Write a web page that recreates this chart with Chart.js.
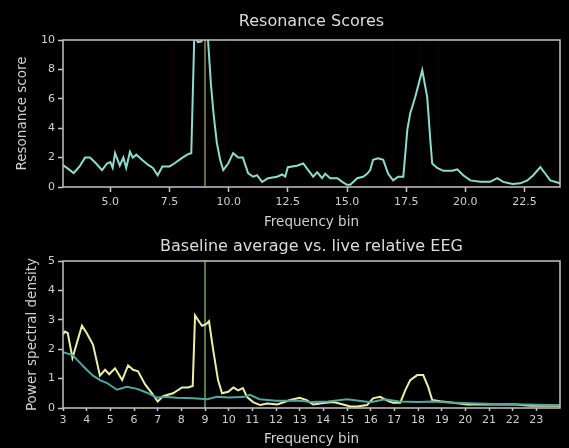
<!DOCTYPE html>
<html>
<head>
<meta charset="utf-8">
<script src="https://cdn.jsdelivr.net/npm/chart.js@4.4.1/dist/chart.umd.min.js"></script>
<style>
  html, body { margin: 0; padding: 0; background: #000; }
  #wrap { position: relative; width: 569px; height: 448px; overflow: hidden; }
  canvas { position: absolute; left: 0; }
  #scoreChart { top: 0; }
  #psdChart { top: 230px; }
</style>
</head>
<body>
<div id="wrap">
  <canvas id="scoreChart" width="569" height="232"></canvas>
  <canvas id="psdChart" width="569" height="218"></canvas>
</div>
<script>
// Resonance score per frequency bin
const resFreq = [3.0, 3.25, 3.45, 3.7, 3.93, 4.14, 4.4, 4.65, 4.86, 5.0, 5.1, 5.2, 5.4, 5.55, 5.67, 5.83, 5.95, 6.1, 6.3, 6.6,
  6.8, 7.0, 7.2, 7.5, 7.7, 8.05, 8.3, 8.42, 8.55, 8.7, 8.85, 9.0, 9.12, 9.25, 9.36, 9.5, 9.64, 9.77, 9.98, 10.19,
  10.4, 10.6, 10.82, 11.03, 11.2, 11.41, 11.67, 12.05, 12.26, 12.39, 12.5, 12.89, 13.15, 13.36, 13.57, 13.74, 13.95, 14.08, 14.29, 14.59,
  14.8, 15.0, 15.14, 15.43, 15.68, 15.85, 15.98, 16.1, 16.32, 16.53, 16.74, 16.95, 17.16, 17.38, 17.55, 17.67, 17.88, 18.18, 18.39, 18.52,
  18.6, 18.81, 19.07, 19.45, 19.66, 19.91, 20.21, 20.63, 21.05, 21.35, 21.6, 21.99, 22.32, 22.62, 22.87, 23.17, 23.38, 23.59, 24.0];
const resScore = [1.5, 1.2, 0.95, 1.4, 2.0, 2.0, 1.6, 1.15, 1.6, 1.7, 1.3, 2.3, 1.45, 2.0, 1.3, 2.4, 2.0, 2.2, 1.9, 1.5,
  1.3, 0.8, 1.4, 1.4, 1.6, 2.0, 2.25, 2.3, 10.4, 9.85, 9.9, 11.5, 10.2, 7.0, 5.0, 3.0, 1.85, 1.15, 1.6, 2.3,
  2.0, 2.0, 0.95, 0.7, 0.8, 0.35, 0.6, 0.7, 0.85, 0.7, 1.35, 1.45, 1.6, 1.15, 0.7, 1.0, 0.6, 0.9, 0.6, 0.6,
  0.35, 0.15, 0.15, 0.6, 0.7, 0.9, 1.15, 1.85, 1.95, 1.85, 0.9, 0.45, 0.7, 0.7, 3.9, 5.0, 6.1, 7.95, 6.1, 3.2,
  1.6, 1.3, 1.1, 1.1, 1.2, 0.8, 0.45, 0.35, 0.35, 0.6, 0.35, 0.2, 0.25, 0.45, 0.8, 1.35, 0.9, 0.45, 0.25];

// Live relative EEG
const liveFreq = [3.0, 3.08, 3.2, 3.4, 3.8, 4.0, 4.27, 4.56, 4.78, 4.95, 5.2, 5.5, 5.75, 5.96, 6.17, 6.47, 6.76, 7.0, 7.23, 7.65,
  8.03, 8.28, 8.48, 8.58, 8.87, 9.05, 9.17, 9.34, 9.55, 9.72, 9.98, 10.2, 10.4, 10.6, 10.78, 11.03, 11.33, 11.63, 12.05, 12.6,
  13.0, 13.3, 13.57, 14.0, 14.42, 14.84, 15.14, 15.43, 15.85, 16.1, 16.4, 16.7, 16.95, 17.25, 17.46, 17.67, 17.97, 18.22, 18.43, 18.6,
  18.94, 19.49, 20.08, 20.63, 21.35, 22.03, 22.75, 23.47, 24.0];
const livePsd = [2.5, 2.6, 2.55, 1.7, 2.8, 2.55, 2.15, 1.1, 1.3, 1.15, 1.35, 0.95, 1.45, 1.3, 1.25, 0.8, 0.5, 0.22, 0.4, 0.5,
  0.7, 0.7, 0.75, 3.15, 2.8, 2.85, 2.95, 2.0, 0.95, 0.5, 0.55, 0.7, 0.6, 0.68, 0.37, 0.2, 0.1, 0.15, 0.12, 0.27,
  0.35, 0.27, 0.12, 0.17, 0.2, 0.12, 0.05, 0.05, 0.1, 0.33, 0.38, 0.25, 0.18, 0.18, 0.6, 0.95, 1.12, 1.12, 0.72, 0.27,
  0.23, 0.18, 0.12, 0.12, 0.12, 0.13, 0.08, 0.08, 0.08];

// Baseline average
const baseFreq = [3.0, 3.2, 3.4, 3.7, 4.0, 4.27, 4.56, 4.86, 5.28, 5.7, 6.13, 6.55, 6.97, 7.23, 7.82, 8.5, 9.1, 9.5, 10.0, 10.6,
  10.9, 11.3, 12.0, 13.0, 13.5, 14.2, 15.0, 15.5, 16.0, 16.6, 17.2, 18.0, 18.6, 19.5, 20.5, 21.5, 22.5, 23.5, 24.0];
const basePsd = [1.9, 1.85, 1.8, 1.55, 1.3, 1.1, 0.95, 0.85, 0.62, 0.72, 0.65, 0.52, 0.35, 0.38, 0.35, 0.33, 0.3, 0.38, 0.36, 0.37,
  0.45, 0.3, 0.25, 0.25, 0.2, 0.22, 0.3, 0.25, 0.2, 0.3, 0.22, 0.2, 0.22, 0.18, 0.15, 0.13, 0.12, 0.1, 0.1];

const scoreTicksX = [5, 7.5, 10, 12.5, 15, 17.5, 20, 22.5];
const scoreTicksY = [0, 2, 4, 6, 8, 10];
const psdTicksX = [3, 4, 5, 6, 7, 8, 9, 10, 11, 12, 13, 14, 15, 16, 17, 18, 19, 20, 21, 22, 23];
const psdTicksY = [0, 1, 2, 3, 4, 5];

const targetBin = 9;
const harmonicBins = [7.65, 9.85, 16.95, 18.1, 18.85];

const FONT = "'DejaVu Sans', sans-serif";
Chart.defaults.font.family = FONT;
Chart.defaults.color = '#cfcfcf';

const pairs = (xs, ys) => xs.map((x, i) => ({ x: x, y: ys[i] }));

// frame + marker lines drawn straight on the canvas
const framePlugin = {
  id: 'frame',
  beforeDatasetsDraw(chart, args, opts) {
    const { ctx, chartArea: a, scales } = chart;
    ctx.save();
    (opts.faint || []).forEach((v) => {
      const px = scales.x.getPixelForValue(v);
      ctx.strokeStyle = 'rgba(110, 10, 10, 0.12)';
      ctx.lineWidth = 2;
      ctx.beginPath();
      ctx.moveTo(px, a.top);
      ctx.lineTo(px, a.bottom);
      ctx.stroke();
    });
    const px = scales.x.getPixelForValue(opts.marker);
    ctx.strokeStyle = opts.markerColor;
    ctx.lineWidth = 2;
    ctx.beginPath();
    ctx.moveTo(px, a.top);
    ctx.lineTo(px, a.bottom);
    ctx.stroke();
    ctx.restore();
  },
  afterDraw(chart) {
    const { ctx, chartArea: a } = chart;
    ctx.save();
    ctx.strokeStyle = '#c4c4c4';
    ctx.lineWidth = 1.5;
    ctx.strokeRect(a.left, a.top, a.right - a.left, a.bottom - a.top);
    ctx.restore();
  }
};

function axisX(ticks, min, max, opts) {
  return {
    type: 'linear',
    min: min,
    max: max,
    afterBuildTicks: (s) => { s.ticks = ticks.map((v) => ({ value: v })); },
    afterFit: (s) => { s.height = opts.height; },
    border: { display: false },
    grid: { drawOnChartArea: false, color: '#c4c4c4', tickLength: opts.tickLength, tickWidth: 1.5 },
    ticks: {
      padding: opts.padding,
      maxRotation: 0,
      autoSkip: false,
      font: { size: 11 },
      callback: opts.format
    },
    title: {
      display: true,
      text: 'Frequency bin',
      color: '#d0d0d0',
      font: { size: 13.5 },
      padding: { top: 0, bottom: opts.titlePad }
    }
  };
}

function axisY(ticks, min, max, label, titlePad) {
  return {
    min: min,
    max: max,
    afterBuildTicks: (s) => { s.ticks = ticks.map((v) => ({ value: v })); },
    afterFit: (s) => { s.width = 63; },
    border: { display: false },
    grid: { drawOnChartArea: false, color: '#c4c4c4', tickLength: 5, tickWidth: 1.5 },
    ticks: { padding: 3, font: { size: 11 } },
    title: {
      display: true,
      text: label,
      color: '#d0d0d0',
      font: { size: 13.5 },
      padding: { top: titlePad, bottom: 0 }
    }
  };
}

new Chart(document.getElementById('scoreChart'), {
  type: 'line',
  data: {
    datasets: [{
      label: 'Resonance score',
      data: pairs(resFreq, resScore),
      borderColor: '#8ddccd',
      borderWidth: 2,
      pointRadius: 0,
      tension: 0,
      clip: 0
    }]
  },
  options: {
    responsive: false,
    animation: false,
    devicePixelRatio: 1,
    layout: { padding: { left: 0, right: 9, top: 0, bottom: 0 } },
    plugins: {
      legend: { display: false },
      tooltip: { enabled: false },
      title: {
        display: true,
        text: 'Resonance Scores',
        fullSize: false,
        color: '#dcdcdc',
        font: { size: 16, weight: 'normal' },
        padding: { top: 12.4, bottom: 8.4 }
      },
      frame: { marker: targetBin, markerColor: '#6a6a3c', faint: harmonicBins }
    },
    scales: {
      x: axisX(scoreTicksX, 3, 24, { height: 45, tickLength: 5, padding: 4, titlePad: 1, format: (v) => Number(v).toFixed(1) }),
      y: axisY(scoreTicksY, 0, 10, 'Resonance score', 14)
    }
  },
  plugins: [framePlugin]
});

new Chart(document.getElementById('psdChart'), {
  type: 'line',
  data: {
    datasets: [{
      label: 'Baseline average',
      data: pairs(baseFreq, basePsd),
      borderColor: '#4fa9a1',
      borderWidth: 2,
      pointRadius: 0,
      tension: 0,
      clip: 0
    }, {
      label: 'Live relative EEG',
      data: pairs(liveFreq, livePsd),
      borderColor: '#ecefa8',
      borderWidth: 2,
      pointRadius: 0,
      tension: 0,
      clip: 0
    }]
  },
  options: {
    responsive: false,
    animation: false,
    devicePixelRatio: 1,
    layout: { padding: { left: 0, right: 9, top: 0, bottom: 0 } },
    plugins: {
      legend: { display: false },
      tooltip: { enabled: false },
      title: {
        display: true,
        text: 'Baseline average vs. live relative EEG',
        fullSize: false,
        color: '#dcdcdc',
        font: { size: 16, weight: 'normal' },
        padding: { top: 7.4, bottom: 4.4 }
      },
      frame: { marker: targetBin, markerColor: '#587a48' }
    },
    scales: {
      x: axisX(psdTicksX, 3, 24, { height: 40, tickLength: 3, padding: 3, titlePad: 0, format: (v) => String(v) }),
      y: axisY(psdTicksY, 0, 5, 'Power spectral density', 24)
    }
  },
  plugins: [framePlugin]
});
</script>
</body>
</html>
